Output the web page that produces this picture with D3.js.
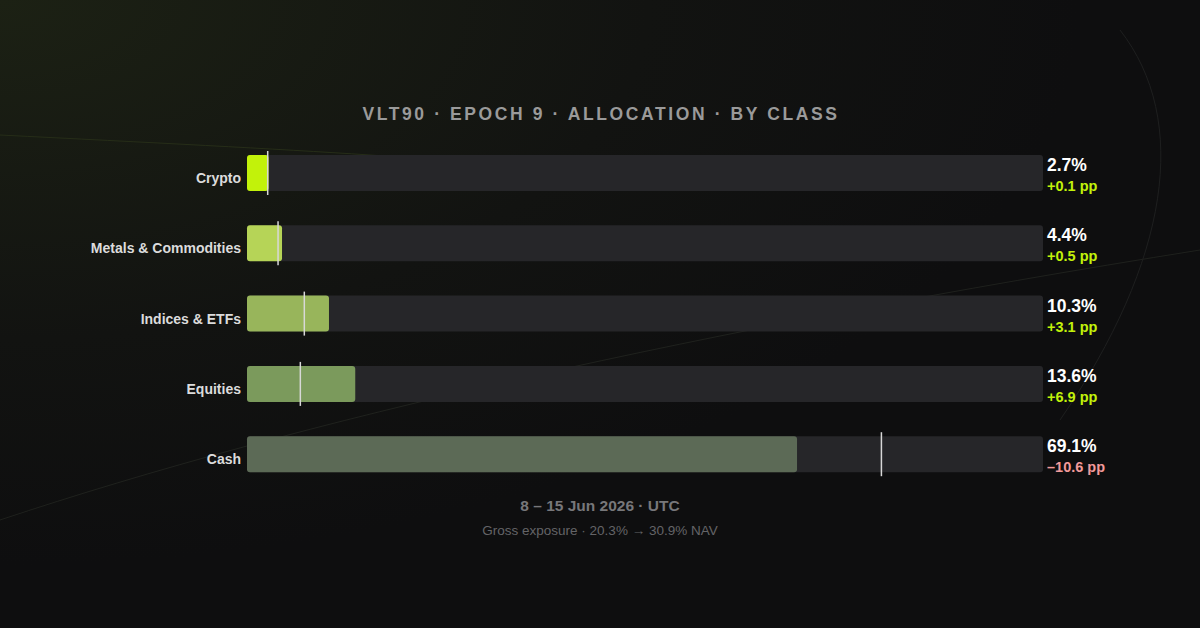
<!DOCTYPE html>
<html><head><meta charset="utf-8">
<script src="https://cdn.jsdelivr.net/npm/d3@7"></script>
<style>html,body{margin:0;background:#0f0f10;}svg{display:block;font-family:"Liberation Sans",Arial,sans-serif;}</style>
</head><body><svg id="c" width="1200" height="628"></svg>
<script>
const categories = ["Crypto", "Metals & Commodities", "Indices & ETFs", "Equities", "Cash"];
const current = [2.7, 4.4, 10.3, 13.6, 69.1];
const deltas = [0.1, 0.5, 3.1, 6.9, -10.6];
const colors = ["#c2f20a", "#b6d457", "#98b55b", "#7b9a5c", "#5c6a56"];

const svg = d3.select("#c");
const defs = svg.append("defs");
const g1 = defs.append("radialGradient").attr("id", "bg").attr("cx", "0%").attr("cy", "0%").attr("r", "90%");
g1.append("stop").attr("offset", "0%").attr("stop-color", "#1c2114");
g1.append("stop").attr("offset", "60%").attr("stop-color", "#121311");
g1.append("stop").attr("offset", "100%").attr("stop-color", "#0e0e0f");
svg.append("rect").attr("width", 1200).attr("height", 628).attr("fill", "url(#bg)");
// faint decorative lines
svg.append("path").attr("d", "M0,520 C300,420 700,330 1200,250").attr("stroke", "#2a2d26").attr("fill", "none").attr("opacity", 0.6);
svg.append("path").attr("d", "M0,135 C300,150 500,160 560,175").attr("stroke", "#262d18").attr("fill", "none");
svg.append("path").attr("d", "M1120,30 C1190,120 1170,260 1060,420").attr("stroke", "#1e1f1f").attr("fill", "none");

svg.append("text").attr("x", 601).attr("y", 120).attr("text-anchor", "middle")
  .attr("fill", "#9a9a9a").attr("font-size", 17.5).attr("font-weight", 700).attr("letter-spacing", 2.6)
  .text("VLT90 · EPOCH 9 · ALLOCATION · BY CLASS");

const x = d3.scaleLinear().domain([0, 100]).range([247, 1043]);
const bh = 36;
const yy = d => 155 + categories.indexOf(d) * 70.3;

const rows = svg.selectAll("g.row").data(categories).join("g").attr("transform", d => `translate(0,${yy(d)})`);
rows.append("rect").attr("x", x(0)).attr("width", x(100) - x(0)).attr("height", bh).attr("rx", 3).attr("fill", "#262629");
rows.append("rect").attr("x", x(0)).attr("width", (d, i) => x(current[i]) - x(0)).attr("height", bh).attr("rx", 3).attr("fill", (d, i) => colors[i]);
rows.append("line").attr("x1", (d, i) => x(current[i] - deltas[i])).attr("x2", (d, i) => x(current[i] - deltas[i]))
  .attr("y1", -4).attr("y2", bh + 4).attr("stroke", "#d8d8d8").attr("stroke-width", 1.5);
rows.append("text").attr("x", 241).attr("y", 28).attr("text-anchor", "end")
  .attr("fill", "#dcdcdc").attr("font-size", 14).attr("font-weight", 700).text(d => d);
rows.append("text").attr("x", 1047).attr("y", 16).attr("fill", "#ffffff").attr("font-size", 17.5).attr("font-weight", 700)
  .text((d, i) => current[i].toFixed(1) + "%");
rows.append("text").attr("x", 1047).attr("y", 36).attr("font-size", 14.5).attr("font-weight", 700)
  .attr("fill", (d, i) => deltas[i] >= 0 ? "#c2f20a" : "#f29a9a")
  .text((d, i) => (deltas[i] >= 0 ? "+" : "\u2013") + Math.abs(deltas[i]).toFixed(1) + " pp");

svg.append("text").attr("x", 600).attr("y", 511).attr("text-anchor", "middle").attr("fill", "#77777a")
  .attr("font-size", 15.5).attr("font-weight", 700).text("8 \u2013 15 Jun 2026 · UTC");
svg.append("text").attr("x", 600).attr("y", 535).attr("text-anchor", "middle").attr("fill", "#646467")
  .attr("font-size", 13.5).text("Gross exposure · 20.3% \u2192 30.9% NAV");
</script></body></html>
